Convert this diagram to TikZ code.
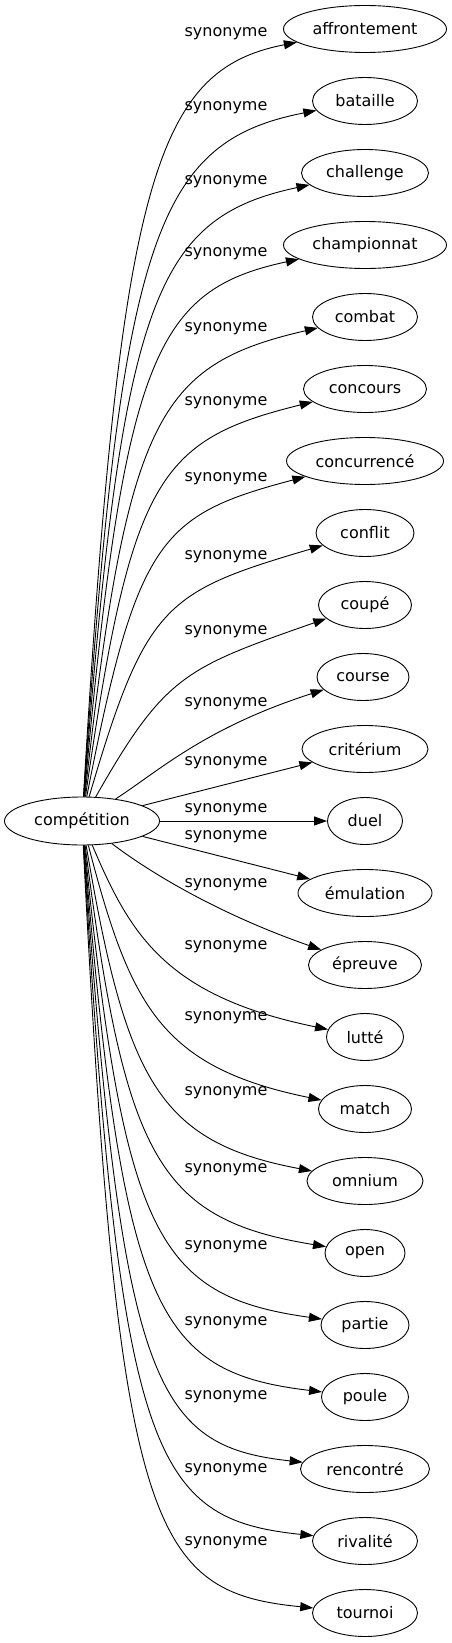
\documentclass[tikz,border=0pt]{standalone}
\usepackage{fontspec}
\setmainfont{DejaVu Sans}
\usetikzlibrary{arrows.meta, shapes.geometric}
\tikzset{
  every picture/.style={line width=0.9pt},
  word/.style={draw, ellipse, inner sep=0pt, minimum width=#1, minimum height=47pt, font=\fontsize{16}{19}\selectfont},
  word/.default=105pt,
  syn/.style={inner sep=0pt, font=\fontsize{16}{19}\selectfont},
  arrow/.style={-{Triangle[length=13pt, width=9pt]}},
}
\begin{document}
\begin{tikzpicture}[x=1pt, y=-1pt]
  \useasboundingbox (0,0) rectangle (452,1643);
  \node[word=155pt, minimum height=48pt] (C) at (82,821) {compétition};
  \node[word=163pt] (aff) at (365,29) {affrontement};
  \node[word=105pt] (bat) at (365,101) {bataille};
  \node[word=127pt] (cha) at (365,173) {challenge};
  \node[word=163pt] (chp) at (365,245) {championnat};
  \node[word=105pt] (cmb) at (365,317) {combat};
  \node[word=123pt] (cnc) at (365,389) {concours};
  \node[word=157pt] (cnr) at (365,461) {concurrencé};
  \node[word=98pt] (cnf) at (365,533) {conflit};
  \node[word=93pt] (cou) at (365,605) {coupé};
  \node[word=92pt] (crs) at (363,677) {course};
  \node[word=126pt] (cri) at (365,749) {critérium};
  \node[word=75pt] (due) at (365,821) {duel};
  \node[word=134pt] (emu) at (365,893) {émulation};
  \node[word=113pt] (epr) at (365,965) {épreuve};
  \node[word=77pt] (lut) at (365,1037) {lutté};
  \node[word=93pt] (mat) at (365,1109) {match};
  \node[word=116pt] (omn) at (365,1181) {omnium};
  \node[word=80pt] (ope) at (365,1253) {open};
  \node[word=88pt] (par) at (365,1325) {partie};
  \node[word=87pt] (pou) at (365,1397) {poule};
  \node[word=129pt] (ren) at (365,1469) {rencontré};
  \node[word=105pt] (riv) at (365,1541) {rivalité};
  \node[word=105pt] (tou) at (365,1613) {tournoi};
  \node[syn] (s0) at (226,34) {synonyme};
  \node[syn] (s1) at (226,108) {synonyme};
  \node[syn] (s2) at (226,182) {synonyme};
  \node[syn] (s3) at (226,254) {synonyme};
  \node[syn] (s4) at (226,329) {synonyme};
  \node[syn] (s5) at (226,403) {synonyme};
  \node[syn] (s6) at (226,479) {synonyme};
  \node[syn] (s7) at (226,557) {synonyme};
  \node[syn] (s8) at (226,632) {synonyme};
  \node[syn] (s9) at (226,704) {synonyme};
  \node[syn] (s10) at (226,763) {synonyme};
  \node[syn] (s11) at (226,810) {synonyme};
  \node[syn] (s12) at (226,837) {synonyme};
  \node[syn] (s13) at (226,885) {synonyme};
  \node[syn] (s14) at (226,947) {synonyme};
  \node[syn] (s15) at (226,1018) {synonyme};
  \node[syn] (s16) at (226,1093) {synonyme};
  \node[syn] (s17) at (226,1170) {synonyme};
  \node[syn] (s18) at (226,1247) {synonyme};
  \node[syn] (s19) at (226,1323) {synonyme};
  \node[syn] (s20) at (226,1397) {synonyme};
  \node[syn] (s21) at (226,1470) {synonyme};
  \node[syn] (s22) at (226,1543) {synonyme};
  \draw[arrow] (C) .. controls (120,180) and (155,70) .. (aff);
  \draw[arrow] (C) .. controls (121,239) and (155,142) .. (bat);
  \draw[arrow] (C) .. controls (122,299) and (155,218) .. (cha);
  \draw[arrow] (C) .. controls (124,357) and (155,290) .. (chp);
  \draw[arrow] (C) .. controls (127,418) and (157,365) .. (cmb);
  \draw[arrow] (C) .. controls (131,478) and (158,440) .. (cnc);
  \draw[arrow] (C) .. controls (137,539) and (160,515) .. (cnr);
  \draw[arrow] (C) .. controls (146,603) and (165,592) .. (cnf);
  \draw[arrow] (C) .. controls (165,675) and (185,668) .. (cou);
  \draw[arrow] (C) .. controls (160,770) and (205,728) .. (crs);
  \draw[arrow] (C) -- (cri);
  \draw[arrow] (C) -- (due);
  \draw[arrow] (C) -- (emu);
  \draw[arrow] (C) .. controls (160,880) and (230,918) .. (epr);
  \draw[arrow] (C) .. controls (130,934) and (165,996) .. (lut);
  \draw[arrow] (C) .. controls (130,1005) and (160,1067) .. (mat);
  \draw[arrow] (C) .. controls (126,1080) and (158,1142) .. (omn);
  \draw[arrow] (C) .. controls (125,1157) and (157,1219) .. (ope);
  \draw[arrow] (C) .. controls (124,1234) and (156,1296) .. (par);
  \draw[arrow] (C) .. controls (123,1310) and (155,1372) .. (pou);
  \draw[arrow] (C) .. controls (122,1384) and (153,1446) .. (ren);
  \draw[arrow] (C) .. controls (120,1457) and (152,1519) .. (riv);
  \draw[arrow] (C) .. controls (118,1530) and (150,1592) .. (tou);
\end{tikzpicture}
\end{document}
